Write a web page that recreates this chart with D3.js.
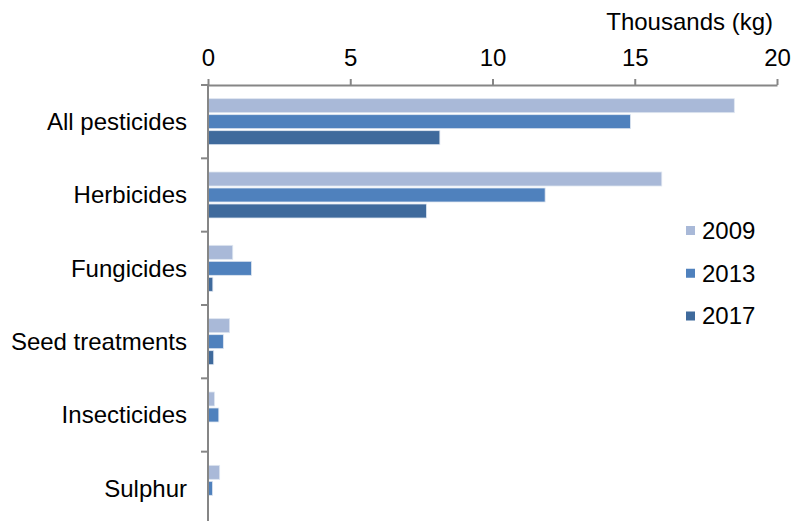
<!DOCTYPE html>
<html>
<head>
<meta charset="utf-8">
<script src="https://cdn.jsdelivr.net/npm/d3@7"></script>
<style>
  body { margin: 0; background: #fff; }
  text { font-family: "Liberation Sans", Arial, sans-serif; fill: #000; }
</style>
</head>
<body>
<script>
// data (thousands of kg)
const categories = ["All pesticides", "Herbicides", "Fungicides", "Seed treatments", "Insecticides", "Sulphur"];
const years = ["2009", "2013", "2017"];
const values2009 = [18.5, 15.95, 0.87, 0.76, 0.23, 0.41];
const values2013 = [14.85, 11.85, 1.53, 0.54, 0.38, 0.16];
const values2017 = [8.15, 7.68, 0.17, 0.2, 0, 0];
const xTicks = [0, 5, 10, 15, 20];
const colors = ["#a9b9d8", "#4f81bd", "#3f6a9c"];

const width = 797, height = 521;
const axisColor = "#868686";
const fontSize = 24;

const series = [values2009, values2013, values2017];
const rows = categories.map((c, i) => ({
    name: c,
    vals: years.map((y, j) => ({year: y, value: series[j][i], color: colors[j]}))
}));

const svg = d3.select("body").append("svg")
    .attr("width", width)
    .attr("height", height);

const x = d3.scaleLinear().domain([0, 20]).range([208, 777]);
const y = d3.scaleBand().domain(categories).range([85, 525]);
const yInner = d3.scaleBand().domain(years).range([0, 46]).paddingInner(0.125);
const barOffset = (y.bandwidth() - 46) / 2;

// bars
const groups = svg.append("g").selectAll("g")
    .data(rows)
    .join("g")
    .attr("transform", d => "translate(0," + (y(d.name) + barOffset) + ")");

groups.selectAll("rect")
    .data(d => d.vals.filter(v => v.value > 0))
    .join("rect")
    .attr("x", x(0))
    .attr("y", d => yInner(d.year))
    .attr("width", d => x(d.value) - x(0))
    .attr("height", yInner.bandwidth())
    .attr("fill", d => d.color)
    .attr("stroke", "#dfe6f1")
    .attr("stroke-width", 0.8);

// top axis
const xAxis = svg.append("g")
    .attr("transform", "translate(0,85)")
    .call(d3.axisTop(x).tickValues(xTicks).tickSize(6).tickSizeOuter(0).tickPadding(13));
xAxis.select(".domain").attr("stroke", axisColor).attr("stroke-width", 2);
xAxis.selectAll(".tick line").attr("stroke", axisColor).attr("stroke-width", 2);
xAxis.selectAll(".tick text")
    .attr("font-size", fontSize)
    .attr("font-family", "Liberation Sans, Arial, sans-serif")
    .attr("fill", "#000");

svg.append("text")
    .attr("x", 773)
    .attr("y", 30)
    .attr("text-anchor", "end")
    .attr("font-size", fontSize)
    .text("Thousands (kg)");

// left axis with ticks between categories
const yAxis = svg.append("g");
yAxis.append("line")
    .attr("x1", x(0)).attr("x2", x(0))
    .attr("y1", 85).attr("y2", 525)
    .attr("stroke", axisColor).attr("stroke-width", 2);
yAxis.selectAll(".ytick")
    .data(categories.map(c => y(c)).concat([y.range()[1]]))
    .join("line")
    .attr("class", "ytick")
    .attr("x1", x(0) - 7).attr("x2", x(0))
    .attr("y1", d => d).attr("y2", d => d)
    .attr("stroke", axisColor).attr("stroke-width", 2);
yAxis.selectAll(".ylabel")
    .data(categories)
    .join("text")
    .attr("class", "ylabel")
    .attr("x", 187)
    .attr("y", d => y(d) + y.bandwidth() / 2)
    .attr("dy", "0.35em")
    .attr("text-anchor", "end")
    .attr("font-size", fontSize)
    .text(d => d);

// legend
const legend = svg.append("g").selectAll("g")
    .data(years)
    .join("g")
    .attr("transform", (d, i) => "translate(686," + (230.5 + i * 42.75) + ")");
legend.append("rect")
    .attr("x", 0).attr("y", -4.5)
    .attr("width", 9).attr("height", 9)
    .attr("fill", (d, i) => colors[i]);
legend.append("text")
    .attr("x", 16)
    .attr("dy", "0.35em")
    .attr("font-size", fontSize)
    .text(d => d);
</script>
</body>
</html>
